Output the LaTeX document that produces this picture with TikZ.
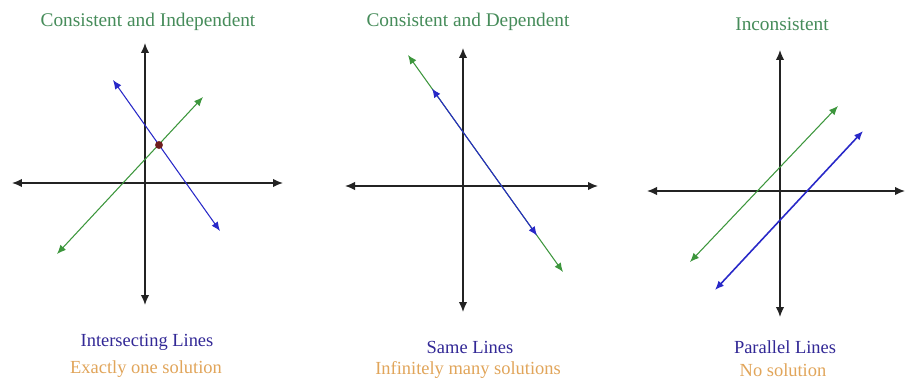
\documentclass[tikz,border=0pt]{standalone}
\usepackage{fontspec}
\setmainfont{Liberation Serif}
\usepackage{xcolor}
\usepackage{tikz}
\usetikzlibrary{arrows.meta}

\definecolor{titlegreen}{RGB}{70,140,90}
\definecolor{labelblue}{RGB}{50,40,150}
\definecolor{solorange}{RGB}{225,165,90}
\definecolor{linegreen}{RGB}{60,150,60}
\definecolor{lineblue}{RGB}{40,40,200}
\definecolor{axisgray}{RGB}{35,35,35}
\definecolor{dotred}{RGB}{110,30,30}

\begin{document}
\begin{tikzpicture}[x=0.02cm, y=-0.02cm,
    axis/.style={draw=axisgray, line width=0.8pt, {Latex[length=2mm, width=1.7mm]}-{Latex[length=2mm, width=1.7mm]}},
    gline/.style={draw=linegreen, line width=0.6pt, {Latex[length=1.8mm, width=1.5mm]}-{Latex[length=1.8mm, width=1.5mm]}},
    bline/.style={draw=lineblue, line width=0.6pt, {Latex[length=1.8mm, width=1.5mm]}-{Latex[length=1.8mm, width=1.5mm]}},
    title/.style={text=titlegreen, font=\fontsize{11}{13}\selectfont},
    kind/.style={text=labelblue, font=\fontsize{10.5}{12}\selectfont},
    sol/.style={text=solorange, font=\fontsize{10.5}{12}\selectfont}]
    \useasboundingbox[fill=white] (0,0) rectangle (908,378);

    % Consistent and Independent
    \node[title] (t1) at (148,22) {Consistent and Independent};
    \coordinate (x1l) at (12,183);  \coordinate (x1r) at (283,183);
    \coordinate (y1t) at (145,43);  \coordinate (y1b) at (145,305);
    \draw[axis] (x1l) -- (x1r);
    \draw[axis] (y1t) -- (y1b);
    \coordinate (g1a) at (57,254);  \coordinate (g1b) at (203,97);
    \coordinate (b1a) at (113,80);  \coordinate (b1b) at (220,231);
    \draw[gline] (g1a) -- (g1b);
    \draw[bline] (b1a) -- (b1b);
    \node[circle, fill=dotred, inner sep=0pt, minimum size=4.5pt] (p1) at (159,145) {};
    \node[kind] (k1) at (147,342) {Intersecting Lines};
    \node[sol] (s1) at (146,369) {Exactly one solution};

    % Consistent and Dependent
    \node[title] (t2) at (468,22) {Consistent and Dependent};
    \coordinate (x2l) at (345,186);  \coordinate (x2r) at (598,186);
    \coordinate (y2t) at (463,48);   \coordinate (y2b) at (463,312);
    \draw[axis] (x2l) -- (x2r);
    \draw[axis] (y2t) -- (y2b);
    \coordinate (g2a) at (408,55);   \coordinate (g2b) at (563,272);
    \coordinate (b2a) at (432,88.6); \coordinate (b2b) at (537,235.6);
    \draw[gline] (g2a) -- (g2b);
    \draw[bline] (b2a) -- (b2b);
    \node[kind] (k2) at (470,347) {Same Lines};
    \node[sol] (s2) at (468,370) {Infinitely many solutions};

    % Inconsistent
    \node[title] (t3) at (782,24) {Inconsistent};
    \coordinate (x3l) at (647,191);  \coordinate (x3r) at (905,191);
    \coordinate (y3t) at (780,50);   \coordinate (y3b) at (780,317);
    \draw[axis] (x3l) -- (x3r);
    \draw[axis] (y3t) -- (y3b);
    \coordinate (g3a) at (690,262);  \coordinate (g3b) at (838,106);
    \coordinate (b3a) at (715,290);  \coordinate (b3b) at (863,131);
    \draw[gline] (g3a) -- (g3b);
    \draw[bline, line width=0.9pt] (b3a) -- (b3b);
    \node[kind] (k3) at (785,347) {Parallel Lines};
    \node[sol] (s3) at (783,370) {No solution};
\end{tikzpicture}
\end{document}
